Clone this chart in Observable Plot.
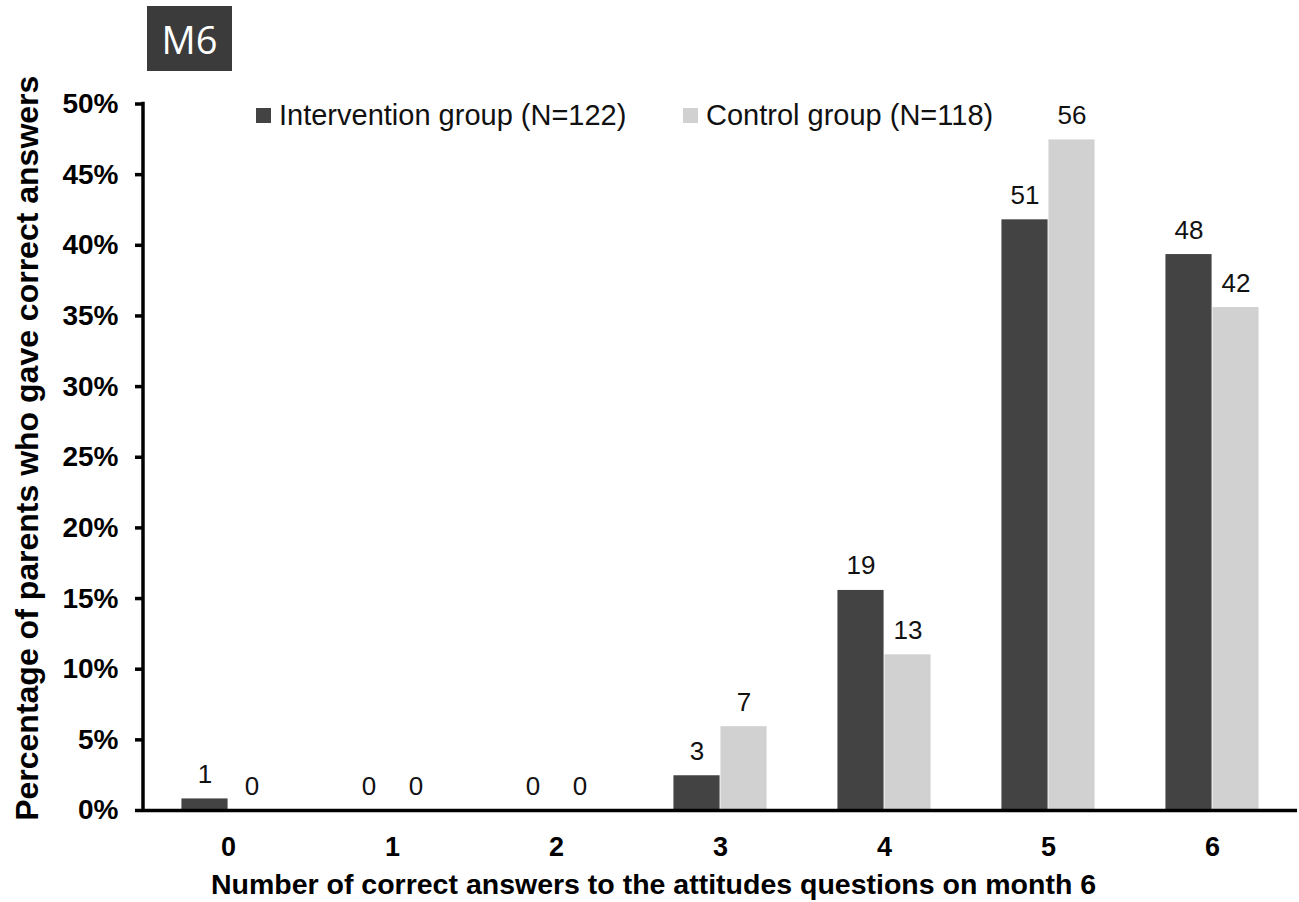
<!DOCTYPE html>
<html>
<head>
<meta charset="utf-8">
<script src="https://cdn.jsdelivr.net/npm/d3@7"></script>
<script src="https://cdn.jsdelivr.net/npm/@observablehq/plot@0.6"></script>
<style>
  html, body { margin: 0; padding: 0; background: #fff; }
  #wrap { position: relative; width: 1299px; height: 902px; font-family: "Liberation Sans", Arial, sans-serif; }
  #badge { position: absolute; left: 147px; top: 6px; width: 85px; height: 65px; background: #3b3b3b; color: #fff;
           font-family: "Open Sans", "Noto Sans", sans-serif; font-size: 38px; display: flex; align-items: center; justify-content: center; }
  .leg { position: absolute; top: 99px; display: flex; align-items: center; font-size: 29px; color: #111; white-space: nowrap; }
  .sw { width: 15px; height: 15px; margin-right: 8px; }
</style>
</head>
<body>
<div id="wrap">
  <div id="chart"></div>
  <div id="badge">M6</div>
</div>
<script>
const categories = ["0", "1", "2", "3", "4", "5", "6"];
const interventionCounts = [1, 0, 0, 3, 19, 51, 48];
const controlCounts = [0, 0, 0, 7, 13, 56, 42];
const interventionN = 122;
const controlN = 118;
const groupNames = ["Intervention group (N=122)", "Control group (N=118)"];
const groupColors = ["#434343", "#d1d1d1"];
const yTicks = [0, 5, 10, 15, 20, 25, 30, 35, 40, 45, 50];
const xTitle = "Number of correct answers to the attitudes questions on month 6";
const yTitle = "Percentage of parents who gave correct answers";

const interv = categories.map((c, i) => ({cat: c, count: interventionCounts[i], pct: interventionCounts[i] / interventionN * 100}));
const ctrl = categories.map((c, i) => ({cat: c, count: controlCounts[i], pct: controlCounts[i] / controlN * 100}));

const W = 1299, H = 902;
const mL = 143, mR = 2, mT = 103.5, mB = 92;
const step = (W - mL - mR) / categories.length;
const barW = 47;
const outer = step / 2 - barW;

const font = "Liberation Sans, Arial, sans-serif";

const chart = Plot.plot({
  width: W,
  height: H,
  marginLeft: mL,
  marginRight: mR,
  marginTop: mT,
  marginBottom: mB,
  style: {fontFamily: font, color: "#000", background: "#fff"},
  x: {domain: categories, padding: 0},
  y: {domain: [0, 50]},
  marks: [
    Plot.barY(interv, {x: "cat", y: "pct", fill: groupColors[0], insetLeft: outer, insetRight: step / 2}),
    Plot.barY(ctrl, {x: "cat", y: "pct", fill: groupColors[1], insetLeft: step / 2, insetRight: outer}),
    Plot.text(interv, {x: "cat", y: "pct", text: d => String(d.count), dx: -barW / 2, dy: -16, lineAnchor: "bottom", fontSize: 26, fill: "#111"}),
    Plot.text(ctrl, {x: "cat", y: "pct", text: d => String(d.count), dx: barW / 2, dy: -16, lineAnchor: "bottom", fontSize: 26, fill: "#111"}),
    Plot.ruleY([0], {stroke: "#000", strokeWidth: 3.5}),
    Plot.axisY({ticks: yTicks, tickSize: 8, tickPadding: 17, tickFormat: d => d + "%", fontSize: 28, fontWeight: "bold", strokeWidth: 3.5, label: null}),
    Plot.axisX({tickSize: 0, tickPadding: 26, fontSize: 27, fontWeight: "bold", label: null}),
    Plot.text([xTitle], {frameAnchor: "bottom", textAnchor: "middle", dx: -67, dy: 74, fontSize: 28.5, fontWeight: "bold", lineAnchor: "middle"}),
    Plot.text([yTitle], {frameAnchor: "left", textAnchor: "middle", rotate: -90, dx: -116, dy: -9, fontSize: 32, fontWeight: "bold", lineAnchor: "middle"})
  ]
});

// y-axis domain line, placed from the library's own scales
const ys = chart.scale("y");
const xs = chart.scale("x");
d3.select(chart).append("line")
  .attr("x1", xs.range[0]).attr("x2", xs.range[0])
  .attr("y1", ys.apply(0) + 1.75).attr("y2", ys.apply(50) - 1.75)
  .attr("stroke", "#000").attr("stroke-width", 3.5);

document.getElementById("chart").appendChild(chart);

// legend
const legendX = [256, 683];
const wrap = document.getElementById("wrap");
groupNames.forEach((name, i) => {
  const item = document.createElement("div");
  item.className = "leg";
  item.style.left = legendX[i] + "px";
  item.innerHTML = `<div class="sw" style="background:${groupColors[i]}"></div><span>${name}</span>`;
  wrap.appendChild(item);
});
</script>
</body>
</html>
